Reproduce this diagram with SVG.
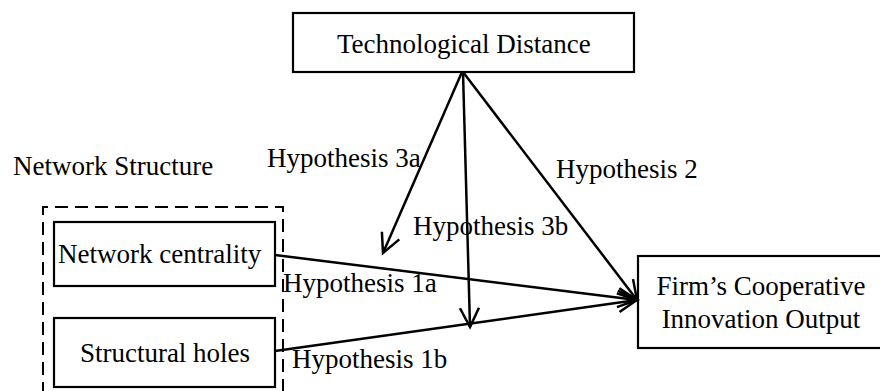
<svg xmlns="http://www.w3.org/2000/svg" width="880" height="391" viewBox="0 0 880 391">
<style>
.box{fill:#fff;stroke:#000;stroke-width:2.2}
.dash{fill:none;stroke:#000;stroke-width:2;stroke-dasharray:13 7}
.t{font-family:"Liberation Serif","Times New Roman",serif;font-size:27px;fill:#000}
.c{stroke:#000;stroke-width:2.5;fill:none;marker-end:url(#ah)}
</style>
<defs>
<marker id="ah" markerUnits="userSpaceOnUse" viewBox="-22 -14 26 28" markerWidth="26" markerHeight="28" refX="0" refY="0" orient="auto" overflow="visible">
<path d="M-19,-9.5 L0,0 L-19,9.5" fill="none" stroke="#000" stroke-width="2.5"/>
</marker>
</defs>
<rect width="880" height="391" fill="#fff"/>
<g id="tech">
<rect class="box" x="293" y="13" width="341" height="59"/>
<text class="t" x="337" y="53">Technological Distance</text>
</g>
<g id="network-structure">
<text class="t" x="13" y="175">Network Structure</text>
<path class="dash" d="M43,395 V207 H283 V395"/>
</g>
<g id="centrality">
<rect class="box" x="54" y="222" width="221" height="64"/>
<text class="t" x="58" y="263">Network centrality</text>
</g>
<g id="holes">
<rect class="box" x="54" y="318" width="221" height="69"/>
<text class="t" x="165" y="362" text-anchor="middle">Structural holes</text>
</g>
<g id="firm">
<rect class="box" x="638" y="256" width="248" height="92"/>
<text class="t" x="761" y="295" text-anchor="middle">Firm’s Cooperative</text>
<text class="t" x="761" y="328" text-anchor="middle">Innovation Output</text>
</g>
<g id="connectors">
<line class="c" x1="275" y1="255" x2="637" y2="300"/>
<line class="c" x1="275" y1="351" x2="637" y2="300"/>
<line class="c" x1="463" y1="72" x2="637" y2="300"/>
<line class="c" x1="463" y1="72" x2="470" y2="327"/>
<line class="c" x1="462" y1="72" x2="383" y2="253"/>
</g>
<g id="labels">
<text class="t" x="267" y="167">Hypothesis 3a</text>
<text class="t" x="556" y="178">Hypothesis 2</text>
<text class="t" x="413" y="235">Hypothesis 3b</text>
<text class="t" x="283" y="292">Hypothesis 1a</text>
<text class="t" x="292" y="368">Hypothesis 1b</text>
</g>
</svg>
